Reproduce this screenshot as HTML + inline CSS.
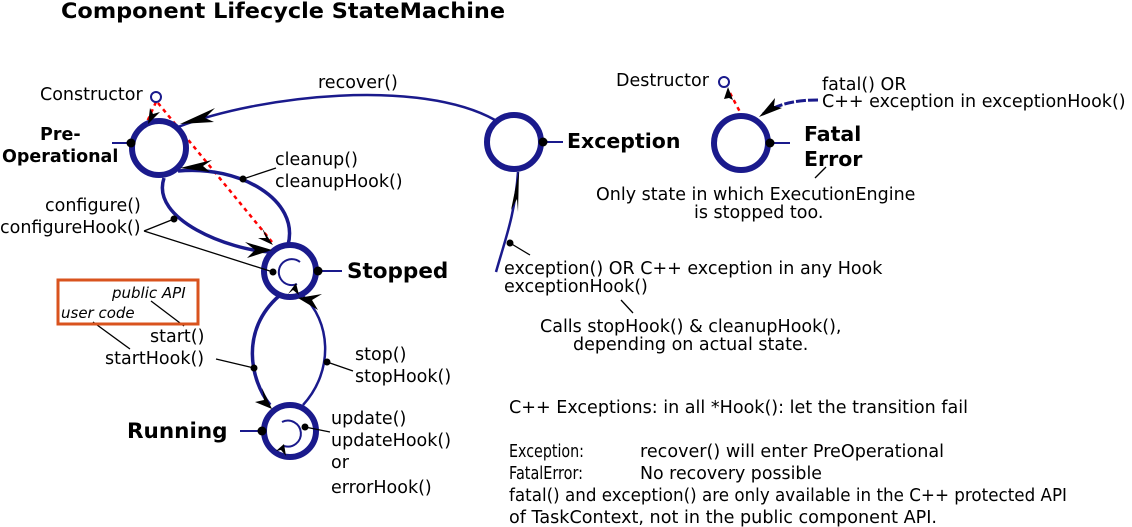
<!DOCTYPE html>
<html><head><meta charset="utf-8"><style>
html,body{margin:0;padding:0;background:#fff;}
svg{display:block;}
text{font-family:"DejaVu Sans","Liberation Sans",sans-serif;fill:#000;}
</style></head><body>
<svg width="1132" height="527" viewBox="0 0 1132 527" xmlns="http://www.w3.org/2000/svg">
<text x="61" y="18" font-weight="bold" font-size="21.5" textLength="444" lengthAdjust="spacingAndGlyphs">Component Lifecycle StateMachine</text>

<g stroke="#f00" stroke-width="2.5" stroke-dasharray="4,4" fill="none">
<line x1="156" y1="102" x2="147" y2="122"/>
<line x1="158" y1="103" x2="272" y2="242"/>
<line x1="730" y1="93" x2="740" y2="112"/>
</g>

<g stroke="#1a1a8c" fill="none">
<path d="M178,127 C260,95 420,78 495,120" stroke-width="2.5"/>
<path d="M178,171 C240,165 300,200 288,245" stroke-width="3.5"/>
<path d="M164,178 C150,220 230,250 270,252" stroke-width="3.5"/>
<path d="M279,296 C240,330 250,380 270,405" stroke-width="3.5"/>
<path d="M303,296 C330,320 335,370 303,405" stroke-width="2.5"/>
<path d="M496,272 C505,240 515,215 518,172" stroke-width="2.5"/>
<path d="M818,100 C790,100 775,106 763,114" stroke-width="3" stroke-dasharray="10,2"/>
<path d="M300,262 A13,13 0 1 0 297,284" stroke-width="2"/>
<path d="M282,422 A13,13 0 1 1 284,446" stroke-width="2"/>
<line x1="112" y1="143" x2="131" y2="143" stroke-width="2"/>
<line x1="318" y1="271" x2="342" y2="271" stroke-width="2"/>
<line x1="240" y1="431" x2="262" y2="431" stroke-width="2"/>
<line x1="543" y1="142" x2="563" y2="142" stroke-width="2"/>
<line x1="770" y1="143" x2="790" y2="143" stroke-width="2"/>
</g>

<g stroke="#1a1a8c" fill="none" stroke-width="6">
<circle cx="159" cy="148" r="27"/>
<circle cx="290" cy="271" r="26"/>
<circle cx="290" cy="431" r="26"/>
<circle cx="514" cy="142" r="27"/>
<circle cx="741" cy="143" r="27"/>
</g>
<g stroke="#1a1a8c" fill="#fff" stroke-width="2">
<circle cx="156" cy="97" r="5"/>
<circle cx="724" cy="82" r="5"/>
</g>

<g fill="#000">
<path d="M180,124 L215,108 L205,118 L214,122 Z"/>
<path d="M180,168 L212,160 L203,166 L210,172 Z"/>
<path d="M148,124 L150,108 L153,114 L160,112 Z"/>
<path d="M272,250 L245,242 L255,250 L247,258 Z"/>
<path d="M273,245 L262,228 L266,238 L258,238 Z"/>
<path d="M298,298 L322,294 L312,300 L318,310 Z"/>
<path d="M272,409 L255,402 L264,400 L262,388 Z"/>
<path d="M519,171 L511,210 L517,199 L518,212 Z"/>
<path d="M759,117 L775,98 L774,106 L782,108 Z"/>
<path d="M728,87 L733,100 L729,98 L724,99 Z"/>
<path d="M296,283 L299,295 L293,290 L288,294 Z"/>
<path d="M284,444 L286,456 L281,450 L276,451 Z"/>
</g>

<g fill="#000">
<circle cx="131" cy="143" r="4.5"/>
<circle cx="318" cy="271" r="4.5"/>
<circle cx="262" cy="431" r="4.5"/>
<circle cx="543" cy="142" r="4.5"/>
<circle cx="770" cy="143" r="4.5"/>
<circle cx="243" cy="179" r="3.5"/>
<circle cx="174" cy="219" r="3.5"/>
<circle cx="273" cy="272" r="3.5"/>
<circle cx="254" cy="368" r="3.5"/>
<circle cx="327" cy="362" r="3.5"/>
<circle cx="305" cy="427" r="3.5"/>
<circle cx="510" cy="243" r="3.5"/>
</g>

<g stroke="#000" stroke-width="1.3" fill="none">
<line x1="243" y1="179" x2="276" y2="168"/>
<line x1="174" y1="219" x2="144" y2="231"/>
<line x1="144" y1="231" x2="273" y2="272"/>
<line x1="216" y1="359" x2="254" y2="368"/>
<line x1="327" y1="362" x2="353" y2="371"/>
<line x1="305" y1="427" x2="330" y2="432"/>
<line x1="510" y1="243" x2="530" y2="255"/>
<line x1="151" y1="301" x2="184" y2="326"/>
<line x1="93" y1="322" x2="130" y2="349"/>
<line x1="621" y1="300" x2="633" y2="313"/>
<line x1="826" y1="167" x2="815" y2="178"/>
</g>

<rect x="58" y="280" width="140" height="44" fill="none" stroke="#d9531e" stroke-width="3"/>
<text x="112" y="298" font-size="15" font-style="italic">public API</text>
<text x="61" y="318" font-size="15" font-style="italic">user code</text>

<g font-size="17.5">
<text x="40" y="100">Constructor</text>
<text x="318" y="88">recover()</text>
<text x="616" y="86">Destructor</text>
<text x="822" y="90">fatal() OR</text>
<text x="822" y="107">C++ exception in exceptionHook()</text>
<text x="275" y="165">cleanup()</text>
<text x="275" y="187">cleanupHook()</text>
<text x="45" y="211">configure()</text>
<text x="0" y="233">configureHook()</text>
<text x="150" y="342">start()</text>
<text x="105" y="364">startHook()</text>
<text x="355" y="360">stop()</text>
<text x="355" y="382">stopHook()</text>
<text x="331" y="424">update()</text>
<text x="331" y="446">updateHook()</text>
<text x="331" y="468">or</text>
<text x="331" y="493">errorHook()</text>
<text x="596" y="200">Only state in which ExecutionEngine</text>
<text x="694" y="218">is stopped too.</text>
<text x="504" y="274">exception() OR C++ exception in any Hook</text>
<text x="504" y="292">exceptionHook()</text>
<text x="540" y="332">Calls stopHook() &amp; cleanupHook(),</text>
<text x="573" y="350">depending on actual state.</text>
<text x="509" y="413" textLength="459" lengthAdjust="spacingAndGlyphs">C++ Exceptions: in all *Hook(): let the transition fail</text>
<text x="509" y="457" textLength="75" lengthAdjust="spacingAndGlyphs">Exception:</text>
<text x="640" y="457" textLength="304" lengthAdjust="spacingAndGlyphs">recover() will enter PreOperational</text>
<text x="509" y="479" textLength="74" lengthAdjust="spacingAndGlyphs">FatalError:</text>
<text x="640" y="479" textLength="182" lengthAdjust="spacingAndGlyphs">No recovery possible</text>
<text x="509" y="501" textLength="558" lengthAdjust="spacingAndGlyphs">fatal() and exception() are only available in the C++ protected API</text>
<text x="509" y="523" textLength="428" lengthAdjust="spacingAndGlyphs">of TaskContext, not in the public component API.</text>
</g>
<g font-weight="bold">
<text x="40" y="140" font-size="17.5">Pre-</text>
<text x="2" y="162" font-size="17.5">Operational</text>
<text x="347" y="278" font-size="21.5">Stopped</text>
<text x="127" y="438" font-size="21.5">Running</text>
<text x="567" y="148" font-size="20.5">Exception</text>
<text x="804" y="141" font-size="20.5">Fatal</text>
<text x="804" y="166" font-size="20.5">Error</text>
</g>
</svg>
</body></html>
